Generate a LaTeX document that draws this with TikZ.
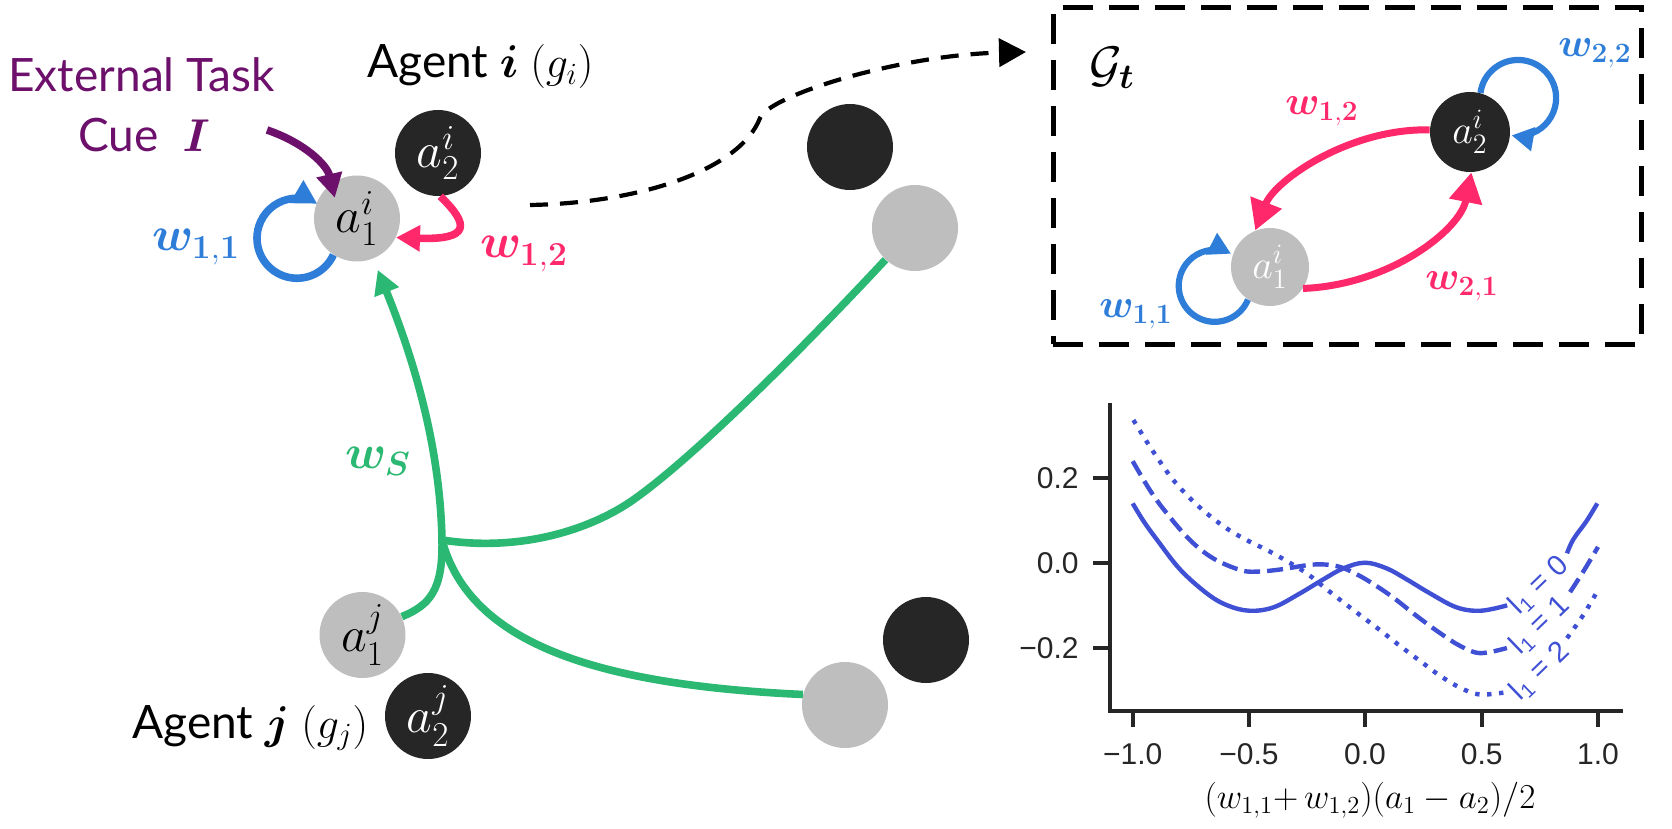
\RequirePackage{fix-cm}
\documentclass[tikz,border=0pt]{standalone}
\usepackage{amsmath}
\usepackage{bm}
\usepackage[no-math]{fontspec}
\setmainfont{Lato}
\newfontfamily\plotfont{Liberation Sans}
\usetikzlibrary{arrows.meta,calc}

\definecolor{nodegray}{RGB}{190,190,190}
\definecolor{nodeblack}{RGB}{38,38,38}
\definecolor{tgreen}{RGB}{43,184,114}
\definecolor{tblue}{RGB}{46,125,216}
\definecolor{tpink}{RGB}{255,40,107}
\definecolor{tpurple}{RGB}{108,16,108}
\definecolor{pblue}{RGB}{63,80,213}
\definecolor{axgray}{RGB}{38,38,38}

\newcommand\fExt{\fontsize{23}{27}\selectfont}
\newcommand\fNode{\fontsize{25}{29}\selectfont}
\newcommand\fW{\fontsize{24}{28}\selectfont}
\newcommand\fBox{\fontsize{20}{24}\selectfont}
\newcommand\fMathS{\fontsize{22}{26}\selectfont}
\newcommand\fTick{\plotfont\fontsize{15}{18}\selectfont}
\newcommand\fXlab{\fontsize{17.5}{21}\selectfont}
\newcommand\fLab{\plotfont\fontsize{14.5}{17}\selectfont}
\newcommand\lsp{\hspace{0.3em}}

\tikzset{
  agent/.style={circle, inner sep=0pt, minimum size=43pt, font=\fNode},
  gnode/.style={agent, fill=nodegray, text=black},
  bnode/.style={agent, fill=nodeblack, text=white},
  boxg/.style={agent, fill=nodegray, text=white, minimum size=39pt, font=\fBox},
  boxb/.style={agent, fill=nodeblack, text=white, minimum size=40pt, font=\fBox},
  conn/.style={line width=3.8pt},
  tipS/.style={-{Triangle[length=12pt,width=12.5pt]}},
  tipL/.style={-{Triangle[length=15pt,width=16pt]}},
  bluearrow/.style={conn, draw=tblue, tipS},
  pinkarrow/.style={conn, draw=tpink, tipS},
  pinkarrowL/.style={line width=3.5pt, draw=tpink, tipL},
  boxloop/.style={line width=3.1pt, draw=tblue, -{Triangle[length=11pt,width=11.5pt]}},
  purplearrow/.style={conn, draw=tpurple, tipS},
  greenline/.style={line width=3.8pt, draw=tgreen},
  greenarrow/.style={greenline, tipS},
  dasharrow/.style={line width=2.1pt, draw=black, dash pattern=on 9pt off 6pt, -{Triangle[length=13.5pt,width=14pt]}},
  boxframe/.style={draw=black, line width=2.5pt, dash pattern=on 15pt off 8pt, inner sep=0pt},
  wlabel/.style={font=\fW, inner sep=1pt},
  wlabelbox/.style={font=\fBox, inner sep=1pt},
  txt/.style={anchor=base west, inner sep=0pt, font=\fExt},
  axisline/.style={draw=axgray, line width=2pt},
  curve/.style={draw=pblue, line width=2.2pt},
  ticklab/.style={font=\fTick, text=axgray, inner sep=0pt},
  curvelab/.style={font=\fLab, text=pblue, rotate=44, inner sep=0pt}
}

\begin{document}
\begin{tikzpicture}[x=0.5pt,y=-0.5pt]
\useasboundingbox (0,0) rectangle (1672,829);
\fill[white] (0,0) rectangle (1672,829);

% ---------- texts ----------
\node[txt, text=tpurple] (ext) at (8,92) {External Task};
\node[txt, text=tpurple] (cue) at (78,152) {Cue\hspace{12pt}$\bm{I}$};
\node[txt] (agi) at (367,78) {Agent $\bm{i}$ {\fMathS$(g_i)$}};
\node[txt] (agj) at (132,738) {Agent $\bm{j}$ {\fMathS$(g_j)$}};

% ---------- agent nodes ----------
\node[gnode] (a1i) at (357,218.5) {$a_1^i$};
\node[bnode] (a2i) at (438,153) {$a_2^i$};
\node[bnode] (b2) at (850,147) {};
\node[gnode] (b1) at (915,228) {};
\node[bnode] (c2) at (926,640) {};
\node[gnode] (c1) at (845,705) {};
\node[gnode] (a1j) at (362.5,635) {$a_1^j$};
\node[bnode] (a2j) at (428,716) {$a_2^j$};

% ---------- agent i connectors ----------
\coordinate (cuestart) at (267,130);
\draw[purplearrow] (cuestart) .. controls (305,143) and (327,165) .. ($(a1i.center)!0.7!(a1i.137)$);
\draw[bluearrow] (a1i.-123) arc[start angle=24.6, end angle=300.5, radius=40];
\draw[pinkarrow] (a2i.-87) .. controls (470,225) and (470,240) .. (a1i.-26);
\node[wlabel, text=tblue] (lw11) at (196,247) {$\bm{w}_{\mathbf{1,1}}$};
\node[wlabel, text=tpink] (lw12) at (524,254) {$\bm{w}_{\mathbf{1,2}}$};

% ---------- green tree ----------
\coordinate (J) at (442,540);
\draw[greenarrow, shorten >=6pt] (a1j.25) .. controls (430,605) and (443,590) .. (J)
      .. controls (440,440) and (410,350) .. (a1i.-68);
\draw[greenline] (J) .. controls (520,552) and (590,530) .. (633,500)
      .. controls (700,453) and (820,330) .. (b1.227);
\draw[greenline] (J) .. controls (470,645) and (600,685) .. (c1.166);
\node[wlabel, text=tgreen] (lws) at (378,461) {$\bm{w_S}$};

% ---------- dashed arrow ----------
\coordinate (dstart) at (530,205);
\coordinate (dend) at (1026,52);
\draw[dasharrow] (dstart) .. controls (640,203) and (740,170) .. (760,118)
      .. controls (770,95) and (900,55) .. (dend);

% ---------- graph box ----------
\node[boxframe, minimum width=294pt, minimum height=168pt] (gbox) at (1347,176) {};
\node[font=\fNode, inner sep=0pt] (gt) at (1112,68) {$\mathcal{G}_{\bm{t}}$};
\node[boxg] (g1) at (1270,267) {$a_1^i$};
\node[boxb] (g2) at (1470,132) {$a_2^i$};
\draw[pinkarrowL] (g2.177) .. controls (1350,128) and (1275,180) .. (g1.112);
\draw[pinkarrowL] (g1.-33) .. controls (1390,285) and (1460,230) .. (g2.-88);
\draw[boxloop] (g2.75) arc[start angle=-172.5, end angle=100, radius=38];
\draw[boxloop] (g1.-124) arc[start angle=22.6, end angle=297, radius=36];
\node[wlabelbox, text=tblue] (bw22) at (1595,53) {$\bm{w}_{\mathbf{2,2}}$};
\node[wlabelbox, text=tpink] (bw12) at (1322,111) {$\bm{w}_{\mathbf{1,2}}$};
\node[wlabelbox, text=tpink] (bw21) at (1462,286) {$\bm{w}_{\mathbf{2,1}}$};
\node[wlabelbox, text=tblue] (bw11) at (1136,314) {$\bm{w}_{\mathbf{1,1}}$};

% ---------- plot ----------
\draw[axisline] (1110,403) -- (1110,711) -- (1623,711);
\foreach \X/\L in {1132.7/{−1.0},1249/{−0.5},1365/{0.0},1481.7/{0.5},1598/{1.0}}{
  \draw[axisline] (\X,711) -- (\X,727);
  \node[ticklab] at (\X,754) {\L};
}
\foreach \Y/\L in {477.7/{0.2},562.7/{0.0},648.3/{−0.2}}{
  \draw[axisline] (1093,\Y) -- (1110,\Y);
  \node[ticklab, anchor=east] at (1079,\Y) {\L};
}
\node[font=\fXlab, inner sep=0pt] (xlab) at (1370,800) {$(w_{1,1}{+}\,w_{1,2})(a_1-a_2)/2$};

\begin{scope}[shift={(1365,562.7)}, x=116.5pt, y=213.25pt]
  % l1 = 0 (solid)
  \draw[curve] plot[smooth, tension=0.6] coordinates {
    (-0.997,0.139) (-0.95,0.097) (-0.894,0.0547) (-0.794,-0.0156) (-0.679,-0.0719)
    (-0.593,-0.0996) (-0.497,-0.1126) (-0.393,-0.1047) (-0.279,-0.0719) (-0.179,-0.0391)
    (-0.093,-0.0133) (0,0) (0.093,-0.0133) (0.179,-0.0391) (0.279,-0.0719) (0.393,-0.1047)
    (0.497,-0.1126) (0.61,-0.100)};
  \draw[curve] plot[smooth, tension=0.6] coordinates {
    (0.867,0.022) (0.894,0.0547) (0.95,0.097) (0.997,0.139)};
  % l1 = 1 (dashed)
  \draw[curve, dash pattern=on 8pt off 3.5pt] plot[smooth, tension=0.6] coordinates {
    (-0.997,0.238) (-0.923,0.170) (-0.851,0.116) (-0.751,0.053) (-0.651,0.010)
    (-0.536,-0.017) (-0.465,-0.021) (-0.365,-0.016) (-0.25,-0.006) (-0.179,-0.004)
    (-0.107,-0.010) (-0.036,-0.027) (0.036,-0.050) (0.122,-0.082) (0.222,-0.125)
    (0.322,-0.165) (0.408,-0.195) (0.494,-0.212) (0.609,-0.200)};
  \draw[curve, dash pattern=on 8pt off 3.5pt] plot[smooth, tension=0.6] coordinates {
    (0.88,-0.069) (0.94,-0.018) (1.0,0.037)};
  % l1 = 2 (dotted)
  \draw[curve, dash pattern=on 2.2pt off 3.8pt] plot[smooth, tension=0.6] coordinates {
    (-0.994,0.3345) (-0.937,0.284) (-0.880,0.237) (-0.823,0.194) (-0.751,0.151)
    (-0.680,0.116) (-0.594,0.0805) (-0.508,0.053) (-0.422,0.030) (-0.336,0.004)
    (-0.250,-0.025) (-0.179,-0.056) (-0.107,-0.087) (-0.021,-0.123) (0.064,-0.158)
    (0.15,-0.195) (0.25,-0.236) (0.322,-0.265) (0.408,-0.293) (0.494,-0.309) (0.614,-0.303)};
  \draw[curve, dash pattern=on 2.2pt off 3.8pt] plot[smooth, tension=0.6] coordinates {
    (0.867,-0.177) (0.94,-0.12) (1.0,-0.064)};
\end{scope}
\node[curvelab] (lab0) at (1539,585) {l\textsubscript{1}\lsp=\lsp0};
\node[curvelab] (lab1) at (1540,625) {l\textsubscript{1}\lsp=\lsp1};
\node[curvelab] (lab2) at (1540,671) {l\textsubscript{1}\lsp=\lsp2};
\end{tikzpicture}
\end{document}
